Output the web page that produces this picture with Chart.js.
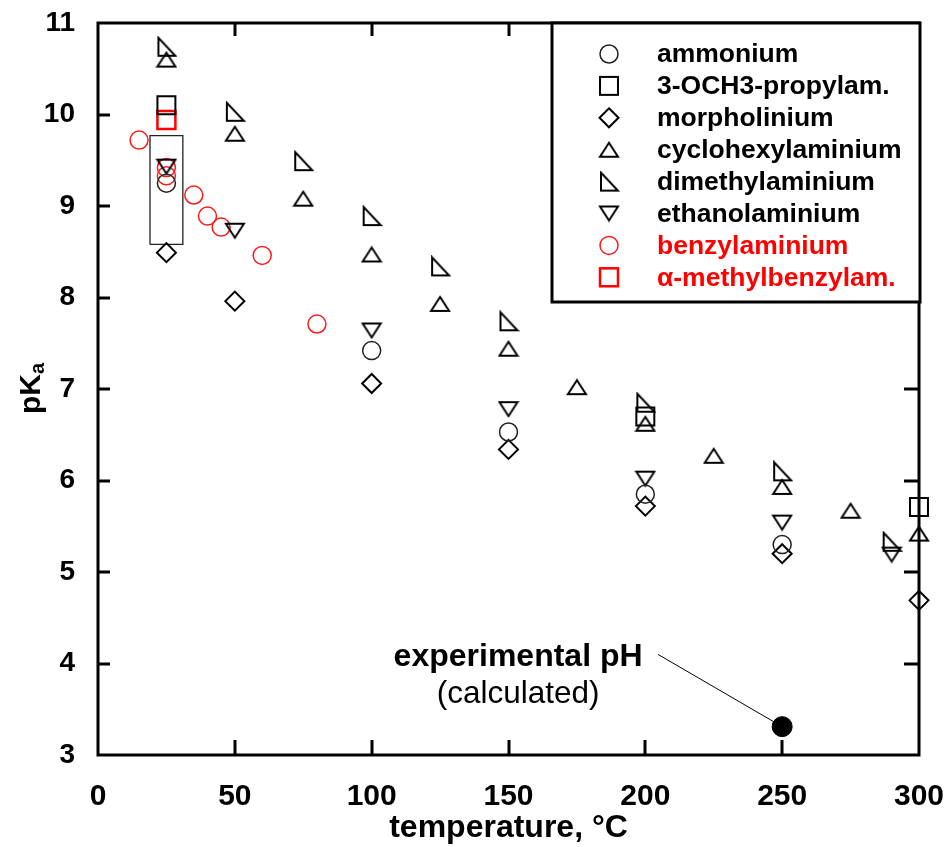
<!DOCTYPE html>
<html>
<head>
<meta charset="utf-8">
<script src="https://cdn.jsdelivr.net/npm/chart.js"></script>
<style>
  html,body{margin:0;padding:0;background:#fff;}
  #wrap{width:945px;height:847px;}
</style>
</head>
<body>
<div id="wrap"><canvas id="c" width="945" height="847"></canvas></div>
<script>
/* pKa vs temperature */
const FONT="'Liberation Sans', Arial, sans-serif";
Chart.defaults.color='#000';
Chart.defaults.font.family=FONT;

// ---- data (temperature degC / pKa) ----
const ammT=[25,100,150,200,250];
const ammP=[9.25,7.42,6.53,5.85,5.30];
const ochT=[25,200,300];
const ochP=[10.10,6.70,5.71];
const morT=[25,50,100,150,200,250,300];
const morP=[8.49,7.96,7.06,6.34,5.72,5.20,4.69];
const cycT=[25,50,75,100,125,150,175,200,225,250,275,300];
const cycP=[10.60,9.79,9.08,8.47,7.93,7.44,7.02,6.62,6.27,5.93,5.67,5.42];
const dmaT=[25,50,75,100,125,150,200,250,290];
const dmaP=[10.74,10.03,9.49,8.89,8.34,7.74,6.85,6.10,5.33];
const etaT=[25,50,100,150,200,250,290];
const etaP=[9.43,8.73,7.64,6.78,6.02,5.54,5.19];
const bzaT=[15,25,25,35,40,45,60,80];
const bzaP=[9.72,9.42,9.33,9.12,8.89,8.77,8.46,7.71];
const mbzT=[25];
const mbzP=[9.94];
const expT=[250];
const expP=[3.31];
// range box at 25 degC
const boxT=[19,31,31,19,19];
const boxP=[8.58,8.58,9.77,9.77,8.58];
// leader line for the experimental pH label
const leadT=[204.6,250];
const leadP=[4.10,3.31];
const labelT=153.5, labelP1=4.07, labelP2=3.66;

const xTicks=[0,50,100,150,200,250,300];
const yTicks=[3,4,5,6,7,8,9,10,11];

const pts=(xs,ys)=>xs.map((x,i)=>({x,y:ys[i]}));

/* marker images */
function mk(w,h,path){
  const c=document.createElement('canvas'); c.width=w; c.height=h;
  const g=c.getContext('2d'); g.strokeStyle='#000'; g.lineWidth=2; g.lineJoin='miter';
  g.beginPath(); path.forEach((p,i)=>i?g.lineTo(p[0],p[1]):g.moveTo(p[0],p[1])); g.closePath(); g.stroke();
  return c;
}
const triUp=mk(22,18,[[2,16],[20,16],[11,2]]);
const triDn=mk(22,18,[[2,2],[20,2],[11,16]]);
const triRt=mk(22,22,[[3,2],[3,20],[20,20]]);

const series=[
  {label:'ammonium',           t:ammT,p:ammP,style:'circle', r:9,   bw:1.5,col:'#222'},
  {label:'3-OCH3-propylam.',   t:ochT,p:ochP,style:'rect',   r:12.7,bw:2,  col:'#000'},
  {label:'morpholinium',       t:morT,p:morP,style:'rectRot',r:9.5, bw:2,  col:'#000'},
  {label:'cyclohexylaminium',  t:cycT,p:cycP,style:triUp,    r:10,  bw:2,  col:'#000'},
  {label:'dimethylaminium',    t:dmaT,p:dmaP,style:triRt,    r:10,  bw:2,  col:'#000'},
  {label:'ethanolaminium',     t:etaT,p:etaP,style:triDn,    r:10,  bw:2,  col:'#000'},
  {label:'benzylaminium',      t:bzaT,p:bzaP,style:'circle', r:9,   bw:1.5,col:'#ff1a1a'},
  {label:'\u03b1-methylbenzylam.',t:mbzT,p:mbzP,style:'rect',r:12.7,bw:2.5,col:'#ff0000'},
];

const datasets=series.map(s=>({
  label:s.label,data:pts(s.t,s.p),pointStyle:s.style,pointRadius:s.r,pointHoverRadius:s.r,
  pointBorderWidth:s.bw,pointBorderColor:s.col,pointBackgroundColor:'rgba(0,0,0,0)',
  showLine:false,clip:false
}));
datasets.push({label:'experimental pH',data:pts(expT,expP),pointStyle:'circle',pointRadius:10,
  pointBackgroundColor:'#000',pointBorderColor:'#000',pointBorderWidth:1,showLine:false,clip:false});
datasets.push({label:'lead',data:pts(leadT,leadP),showLine:true,borderColor:'#000',borderWidth:1,pointRadius:0,clip:false});
datasets.push({label:'range',data:pts(boxT,boxP),showLine:true,borderColor:'#222',borderWidth:1.3,pointRadius:0,tension:0,clip:false});

function legendMarker(ctx,s,x,y){
  ctx.save();
  ctx.strokeStyle=s.col; ctx.lineWidth=s.bw;
  if(s.style instanceof HTMLCanvasElement){
    ctx.drawImage(s.style,x-s.style.width/2,y-s.style.height/2);
  }else if(s.style==='circle'){
    ctx.beginPath(); ctx.arc(x,y,s.r,0,Math.PI*2); ctx.stroke();
  }else if(s.style==='rect'){
    const h=s.r*Math.SQRT1_2; ctx.strokeRect(x-h,y-h,2*h,2*h);
  }else if(s.style==='rectRot'){
    ctx.beginPath(); ctx.moveTo(x,y-s.r); ctx.lineTo(x+s.r,y); ctx.lineTo(x,y+s.r); ctx.lineTo(x-s.r,y); ctx.closePath(); ctx.stroke();
  }
  ctx.restore();
}

const decor={
  id:'decor',
  afterDraw(chart){
    const {ctx,chartArea:a,scales:{x,y}}=chart;
    ctx.save();
    // inward ticks + frame
    ctx.strokeStyle='#000'; ctx.lineWidth=3;
    ctx.beginPath();
    xTicks.slice(1,-1).forEach(v=>{
      const px=Math.round(x.getPixelForValue(v));
      ctx.moveTo(px,a.bottom); ctx.lineTo(px,a.bottom-15);
      ctx.moveTo(px,a.top); ctx.lineTo(px,a.top+13);
    });
    yTicks.slice(1,-1).forEach(v=>{
      const py=Math.round(y.getPixelForValue(v));
      ctx.moveTo(a.left,py); ctx.lineTo(a.left+12,py);
      ctx.moveTo(a.right,py); ctx.lineTo(a.right-15,py);
    });
    ctx.stroke();
    ctx.strokeRect(a.left,a.top,a.right-a.left,a.bottom-a.top);

    // annotation
    ctx.fillStyle='#000'; ctx.textAlign='center'; ctx.textBaseline='middle';
    ctx.font='bold 32px '+FONT;
    ctx.fillText('experimental pH',x.getPixelForValue(labelT),y.getPixelForValue(labelP1));
    ctx.font='31.5px '+FONT;
    ctx.fillText('(calculated)',x.getPixelForValue(labelT),y.getPixelForValue(labelP2));

    // y title pKa
    ctx.save();
    ctx.translate(40,388); ctx.rotate(-Math.PI/2);
    ctx.textAlign='left'; ctx.textBaseline='alphabetic';
    ctx.font='bold 30px '+FONT;
    const w=ctx.measureText('pK').width;
    ctx.fillText('pK',-(w+12)/2,0);
    ctx.font='bold 20px '+FONT;
    ctx.fillText('a',-(w+12)/2+w,4);
    ctx.restore();

    // legend
    const L=552,T=23,R=920,B=302;
    ctx.fillStyle='#fff'; ctx.fillRect(L,T,R-L,B-T);
    ctx.lineWidth=3; ctx.strokeStyle='#000'; ctx.strokeRect(L,T,R-L,B-T);
    ctx.font='bold 26.5px '+FONT; ctx.textAlign='left'; ctx.textBaseline='middle';
    series.forEach((s,i)=>{
      const ry=54+i*31.9;
      legendMarker(ctx,s,609,ry);
      ctx.fillStyle=i>=6?'#ff0000':'#000';
      ctx.fillText(s.label,657,ry+1);
    });
    ctx.restore();
  }
};

new Chart(document.getElementById('c'),{
  type:'scatter',
  data:{datasets},
  options:{
    responsive:false,animation:false,
    layout:{padding:{left:0,right:26,top:23,bottom:0},autoPadding:false},
    plugins:{legend:{display:false},tooltip:{enabled:false}},
    scales:{
      x:{type:'linear',min:0,max:300,
         ticks:{stepSize:50,padding:24,font:{size:30,weight:'bold'},color:'#000',maxRotation:0},
         grid:{display:false,drawTicks:false},border:{display:false},
         title:{display:true,text:'temperature, \u00b0C',font:{size:32,weight:'bold'},color:'#000',padding:{top:0,bottom:0}},
         afterFit(s){s.height=92;s.paddingLeft=0;s.paddingRight=0;}},
      y:{type:'linear',min:3,max:11,
         ticks:{stepSize:1,padding:23,font:{size:28,weight:'bold'},color:'#000'},
         grid:{display:false,drawTicks:false},border:{display:false},
         afterFit(s){s.width=98;s.paddingTop=0;s.paddingBottom=0;}}
    }
  },
  plugins:[decor]
});
</script>
</body>
</html>
